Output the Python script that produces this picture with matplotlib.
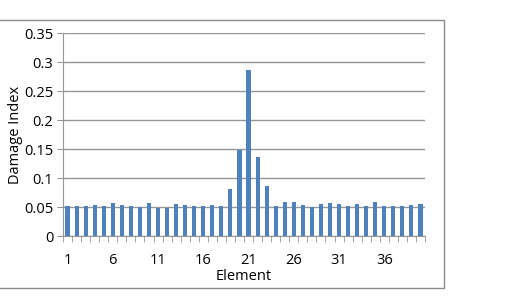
import matplotlib
matplotlib.use("Agg")
import matplotlib.pyplot as plt
from matplotlib.patches import Rectangle
import numpy as np

elements = np.arange(1, 41)
damage = [0.052, 0.051, 0.052, 0.053, 0.052, 0.057, 0.053, 0.051, 0.050, 0.057,
          0.049, 0.049, 0.056, 0.053, 0.052, 0.052, 0.053, 0.052, 0.081, 0.149,
          0.287, 0.136, 0.086, 0.051, 0.058, 0.058, 0.053, 0.050, 0.056, 0.057,
          0.055, 0.052, 0.055, 0.052, 0.059, 0.051, 0.051, 0.051, 0.054, 0.055]
xlabels = [1, 6, 11, 16, 21, 26, 31, 36]
yticks = [0, 0.05, 0.1, 0.15, 0.2, 0.25, 0.3, 0.35]

plt.rcParams["font.family"] = ["Open Sans", "DejaVu Sans"]
fig = plt.figure(figsize=(5.29, 2.96), dpi=100)
ax = fig.add_axes([63 / 529, 1 - 236 / 296, 362 / 529, (236 - 33.3) / 296])

grid = "#969696"
fs = 10.5
ax.bar(elements, damage, 0.45, color="#4f81bd", zorder=3)
ax.set_xlim(0.5, 40.5)
ax.set_ylim(0, 0.35)
ax.set_yticks(yticks)
ax.set_yticklabels(["0", "0.05", "0.1", "0.15", "0.2", "0.25", "0.3", "0.35"], fontsize=fs)
ax.yaxis.grid(True, color=grid, lw=1)
ax.set_axisbelow(True)
ax.set_xticks(xlabels)
ax.set_xticklabels([str(v) for v in xlabels], fontsize=fs)
ax.set_xticks(np.arange(0.5, 41, 1), minor=True)
ax.tick_params(axis="x", which="major", length=0, pad=12)
ax.tick_params(axis="x", which="minor", length=4, color=grid, direction="out")
ax.tick_params(axis="y", length=4, color=grid, pad=3)
for s in ["top", "right"]:
    ax.spines[s].set_visible(False)
ax.spines["left"].set_color(grid)
ax.spines["bottom"].set_color(grid)
ax.set_xlabel("Element", fontsize=fs, labelpad=1)
ax.set_ylabel("Damage Index", fontsize=fs, labelpad=1)

fig.patches.append(Rectangle((-0.01, 1 - 288 / 296), 444 / 529 + 0.01, 268 / 296,
                             transform=fig.transFigure, fill=False,
                             edgecolor="#8c8c8c", lw=1))

fig.savefig("out.png", dpi=100)
